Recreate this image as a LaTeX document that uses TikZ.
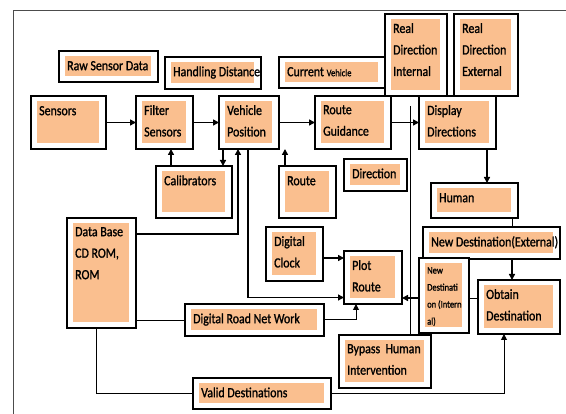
\documentclass[tikz,border=0pt]{standalone}
\usepackage{fontspec}
\setmainfont[FakeStretch=0.85,FakeBold=1.2]{Carlito}
\usetikzlibrary{calc,fit,arrows.meta}
\definecolor{peach}{RGB}{250,191,143}
\tikzset{
  outbox/.style={draw=black, line width=1.1pt, fill=white, inner sep=0pt, outer sep=0pt},
  lbl/.style={anchor=north west, inner sep=0pt, align=left,
    font=\fontsize{14}{21.5}\selectfont, execute at begin node=\rule{0pt}{10pt}},
  flow/.style={line width=1.6pt, -{Triangle[length=6pt,width=6pt]}},
  lflow/.style={line width=1pt, -{Triangle[length=6pt,width=6pt]}},
  link/.style={line width=0.9pt}
}
% box: [label options] name, corner, corner, text
\newcommand\blk[5][]{%
  \node[outbox, fit={#3 #4}] (#2) {};
  \fill[peach] ([shift={(6pt,-5pt)}]#2.north west) rectangle ([shift={(-7pt,6pt)}]#2.south east);
  \node[lbl,#1] (#2 txt) at ([shift={(8pt,-9pt)}]#2.north west) {#5};
}

\begin{document}
\begin{tikzpicture}[x=1pt,y=-1pt]
		%%%%% FRAME %%%%%
		\useasboundingbox (0,0) rectangle (566,414);
		\draw[line width=0.9pt, black!70] (566,10) -- (13,10) -- (13,414);
		
		%%%%% BOXES %%%%%
		\blk{rsd}{(59,51)}{(158,82)}{Raw Sensor Data}
		\blk{hd}{(165,57)}{(261,89)}{Handling Distance}
		\blk{cv}{(279,57)}{(385,88)}{Current {\fontsize{10}{12}\selectfont Vehicle}}
		\blk{rdi}{(385,14)}{(447,96)}{Real\\Direction\\Internal}
		\blk{rde}{(454,14)}{(518,96)}{Real\\Direction\\External}
		
		\blk{sens}{(31,96)}{(106,149)}{Sensors}
		\blk{filt}{(136,96)}{(193,149)}{Filter\\Sensors}
		\blk{vpos}{(219,96)}{(279,149)}{Vehicle\\Position}
		\blk{rg}{(315,96)}{(391,149)}{Route\\Guidance}
		\blk{dd}{(419,96)}{(496,149)}{Display\\Directions}
		
		\blk{cal}{(156,166)}{(232,218)}{Calibrators}
		\blk{route}{(279,166)}{(336,218)}{Route}
		\blk{dir}{(344,159)}{(407,191)}{Direction}
		\blk{human}{(431,183)}{(518,218)}{Human}
		
		\blk{db}{(67,218)}{(136,328)}{Data Base\\CD ROM,\\ROM}
		\blk{clock}{(266,227)}{(323,281)}{Digital\\Clock}
		\blk{plot}{(344,251)}{(402,304)}{Plot\\Route}
		\blk{nde}{(423,227)}{(560,259)}{New Destination(External)}
		\blk[font=\fontsize{10}{17}\selectfont, execute at begin node={}]{ndi}{(419,258)}{(469,333)}{New\\Destinati\\on (Intern\\al)}
		\blk{od}{(478,280)}{(560,334)}{Obtain\\Destination}
		\blk{drnw}{(185,304)}{(324,336)}{Digital Road Net Work}
		\blk{bypass}{(339,335)}{(431,388)}{Bypass~ Human\\Intervention}
		\blk{vd}{(193,378)}{(331,409)}{Valid Destinations}
		
		%%%%% LINKS %%%%%
		\draw[flow] (sens.east) -- (filt.west);
		\draw[flow] (filt.east) -- (vpos.west);
		\draw[flow] (vpos.east) -- (rg.west);
		\draw[flow] (rg.east) -- (dd.west);
		\draw[flow] ([xshift=15pt]cal.north west) -- ([xshift=15pt]cal.north west |- filt.south);
		\draw[flow] ([xshift=4pt]vpos.south west) -- ([xshift=4pt]vpos.south west |- cal.north);
		\draw[flow] ([yshift=-16pt]db.north east) -| ([xshift=19pt]vpos.south west);
		\draw[line width=1.3pt, -{Triangle[length=6pt,width=6pt]}] ([xshift=29pt]vpos.south west) |- ([yshift=-20pt]plot.west);
		\draw[flow] ([xshift=17pt]route.north west) -| ([xshift=6pt]vpos.south east);
		
		\draw[flow] ([xshift=-9pt]dd.south east) -- ([xshift=-9pt]dd.south east |- human.north);
		\draw[link] ([xshift=-6pt]human.south east) -- ([xshift=-6pt]human.south east |- nde.north);
		\draw[flow] ([xshift=34pt]od.north west |- nde.south) -- ([xshift=34pt]od.north west);
		\draw[link] ([yshift=-18pt]od.north west) -- ([yshift=-18pt]od.north west -| ndi.east);
		\draw[flow] ([yshift=-18pt]od.north west -| ndi.west) -- ([yshift=-18pt]od.north west -| plot.east);
		\draw[flow] ([yshift=-31pt]clock.north east) -- ([yshift=-31pt]clock.north east -| plot.west);
		\draw[lflow] (drnw.east) -| ([xshift=12pt]plot.south west);
		\draw[link] (db.east |- drnw.west) -- (drnw.west);
		\draw[link] ([xshift=29pt]db.south west) |- (vd.west);
		\draw[lflow] (vd.east) -| ([xshift=26pt]od.south west);
		
		\coordinate (rdlink) at (410,106);
		\draw[link] (rdlink) -- (rdlink |- bypass.north);
	\end{tikzpicture}
\end{document}
